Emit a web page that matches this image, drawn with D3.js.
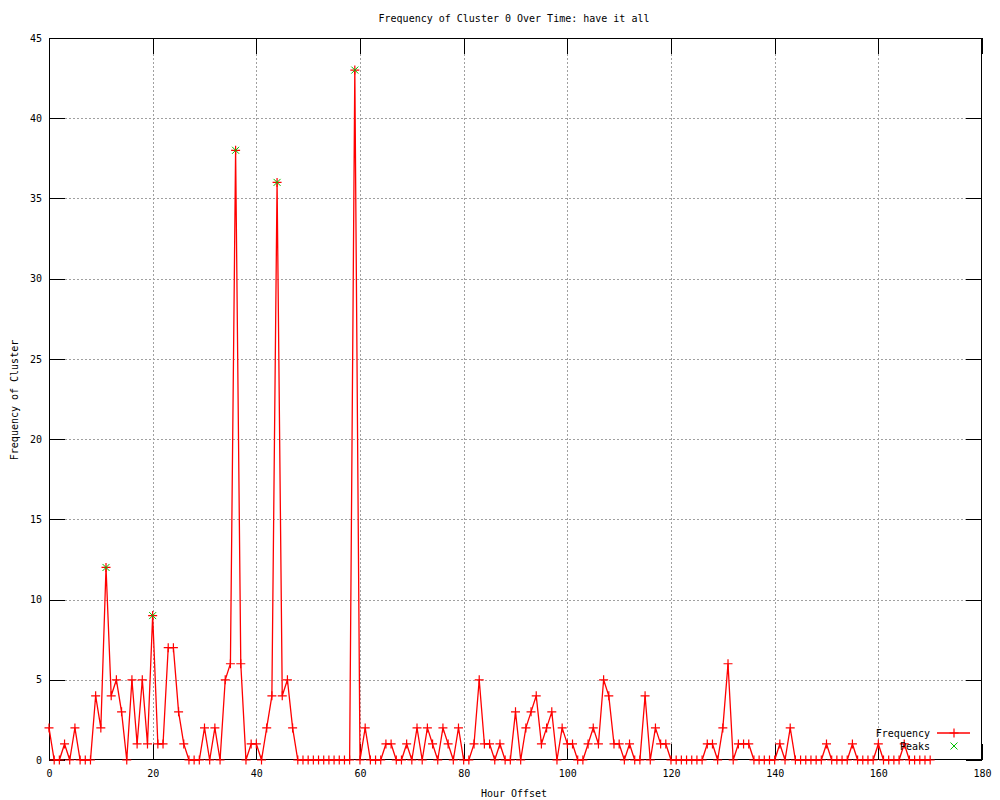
<!DOCTYPE html>
<html>
<head>
<meta charset="utf-8">
<script src="https://cdn.jsdelivr.net/npm/d3@7"></script>
<style>
  body { margin: 0; background: #fff; }
  text { font-family: "DejaVu Sans Mono", "Liberation Mono", monospace; font-size: 10px; fill: #000; }
</style>
</head>
<body>
<svg id="chart" width="1000" height="800"></svg>
<script>
// Frequency per hour offset (hours 0..170)
const hours = d3.range(0, 171);
const frequency = [
  2,0,0,1,0,2,0,0,0,4,   // 0-9
  2,12,4,5,3,0,5,1,5,1,  // 10-19
  9,1,1,7,7,3,1,0,0,0,   // 20-29
  2,0,2,0,5,6,38,6,0,1,  // 30-39
  1,0,2,4,36,4,5,2,0,0,  // 40-49
  0,0,0,0,0,0,0,0,0,43,  // 50-59
  0,2,0,0,0,1,1,0,0,1,   // 60-69
  0,2,0,2,1,0,2,1,0,2,   // 70-79
  0,0,1,5,1,1,0,1,0,0,   // 80-89
  3,0,2,3,4,1,2,3,0,2,   // 90-99
  1,1,0,0,1,2,1,5,4,1,   // 100-109
  1,0,1,0,0,4,0,2,1,1,   // 110-119
  0,0,0,0,0,0,0,1,1,0,   // 120-129
  2,6,0,1,1,1,0,0,0,0,   // 130-139
  0,1,0,2,0,0,0,0,0,0,   // 140-149
  1,0,0,0,0,1,0,0,0,0,   // 150-159
  1,0,0,0,0,1,0,0,0,0,   // 160-169
  0                      // 170
];
const peakHours = [11, 20, 36, 44, 59];
const peakValues = [12, 9, 38, 36, 43];
const xTicks = [0, 20, 40, 60, 80, 100, 120, 140, 160, 180];
const yTicks = [0, 5, 10, 15, 20, 25, 30, 35, 40, 45];
const titleText = "Frequency of Cluster 0 Over Time: have it all";
const xLabel = "Hour Offset";
const yLabel = "Frequency of Cluster";
const seriesNames = ["Frequency", "Peaks"];

const svg = d3.select("#chart");
const L = 49, R = 982, T = 38, B = 760;
const x = d3.scaleLinear().domain([0, 180]).range([L, R]);
const y = d3.scaleLinear().domain([0, 45]).range([B, T]);
const red = "#ff0000", green = "#00c000", gridCol = "#a0a0a0";
const tickLen = 16;

// Grid
const grid = svg.append("g").attr("shape-rendering", "crispEdges");
xTicks.slice(1, -1).forEach(t => {
  grid.append("line").attr("x1", Math.round(x(t)) + 0.5).attr("x2", Math.round(x(t)) + 0.5)
    .attr("y1", T + tickLen).attr("y2", B - tickLen)
    .attr("stroke", gridCol).attr("stroke-dasharray", "2,2");
});
yTicks.slice(1, -1).forEach(t => {
  grid.append("line").attr("y1", Math.round(y(t)) + 0.5).attr("y2", Math.round(y(t)) + 0.5)
    .attr("x1", L + tickLen).attr("x2", R - tickLen)
    .attr("stroke", gridCol).attr("stroke-dasharray", "2,2");
});

// Axes (bottom/left labelled, top/right mirrored ticks)
const axB = d3.axisBottom(x).tickValues(xTicks).tickSizeInner(-tickLen).tickSizeOuter(0).tickPadding(10);
const axT = d3.axisTop(x).tickValues(xTicks).tickSizeInner(-tickLen).tickSizeOuter(0).tickFormat("");
const axL = d3.axisLeft(y).tickValues(yTicks).tickSizeInner(-tickLen).tickSizeOuter(0).tickPadding(7);
const axR = d3.axisRight(y).tickValues(yTicks).tickSizeInner(-tickLen).tickSizeOuter(0).tickFormat("");

function styleAxis(g) {
  g.attr("shape-rendering", "crispEdges");
  g.select(".domain").remove();
  g.selectAll("line").attr("stroke", "#000");
  g.selectAll("text").attr("font-family", null).attr("font-size", null);
}
svg.append("g").attr("transform", `translate(0,${B})`).call(axB).call(styleAxis);
svg.append("g").attr("transform", `translate(0,${T})`).call(axT).call(styleAxis);
svg.append("g").attr("transform", `translate(${L},0)`).call(axL).call(styleAxis);
svg.append("g").attr("transform", `translate(${R},0)`).call(axR).call(styleAxis);

// Frame
svg.append("rect").attr("x", L + 0.5).attr("y", T + 0.5).attr("width", R - L - 1).attr("height", B - T - 1)
  .attr("fill", "none").attr("stroke", "#000").attr("shape-rendering", "crispEdges");

// Frequency line
const pts = hours.map((h, i) => [h, frequency[i]]);
svg.append("path").datum(pts)
  .attr("d", d3.line().x(d => x(d[0])).y(d => y(d[1])))
  .attr("fill", "none").attr("stroke", red).attr("stroke-width", 1.3);

// + markers
const plus = (cx, cy, s) => `M${cx - s},${cy}H${cx + s}M${cx},${cy - s}V${cy + s}`;
const cross = (cx, cy, s) => `M${cx - s},${cy - s}L${cx + s},${cy + s}M${cx - s},${cy + s}L${cx + s},${cy - s}`;
svg.append("g").selectAll("path").data(pts).join("path")
  .attr("d", d => plus(x(d[0]), y(d[1]), 4.5))
  .attr("stroke", red).attr("stroke-width", 1.2).attr("fill", "none");

// Peaks
const peakPts = peakHours.map((h, i) => [h, peakValues[i]]);
svg.append("g").selectAll("path").data(peakPts).join("path")
  .attr("d", d => cross(x(d[0]), y(d[1]), 3.5))
  .attr("stroke", green).attr("stroke-width", 1).attr("fill", "none");

// Legend
const lg = svg.append("g");
lg.append("text").attr("x", 930).attr("y", 733).attr("dy", "0.35em").attr("text-anchor", "end").text(seriesNames[0]);
lg.append("line").attr("x1", 937).attr("x2", 970).attr("y1", 733).attr("y2", 733).attr("stroke", red).attr("stroke-width", 1.3);
lg.append("path").attr("d", plus(954, 733, 4.5)).attr("stroke", red).attr("stroke-width", 1.2);
lg.append("text").attr("x", 930).attr("y", 746).attr("dy", "0.35em").attr("text-anchor", "end").text(seriesNames[1]);
lg.append("path").attr("d", cross(954, 746, 3.5)).attr("stroke", green).attr("stroke-width", 1);

// Titles
svg.append("text").attr("x", 514).attr("y", 18).attr("dy", "0.35em").attr("text-anchor", "middle").text(titleText);
svg.append("text").attr("x", 514).attr("y", 793).attr("dy", "0.35em").attr("text-anchor", "middle").text(xLabel);
svg.append("text").attr("transform", "translate(14,400) rotate(-90)").attr("dy", "0.35em").attr("text-anchor", "middle").text(yLabel);
</script>
</body>
</html>
